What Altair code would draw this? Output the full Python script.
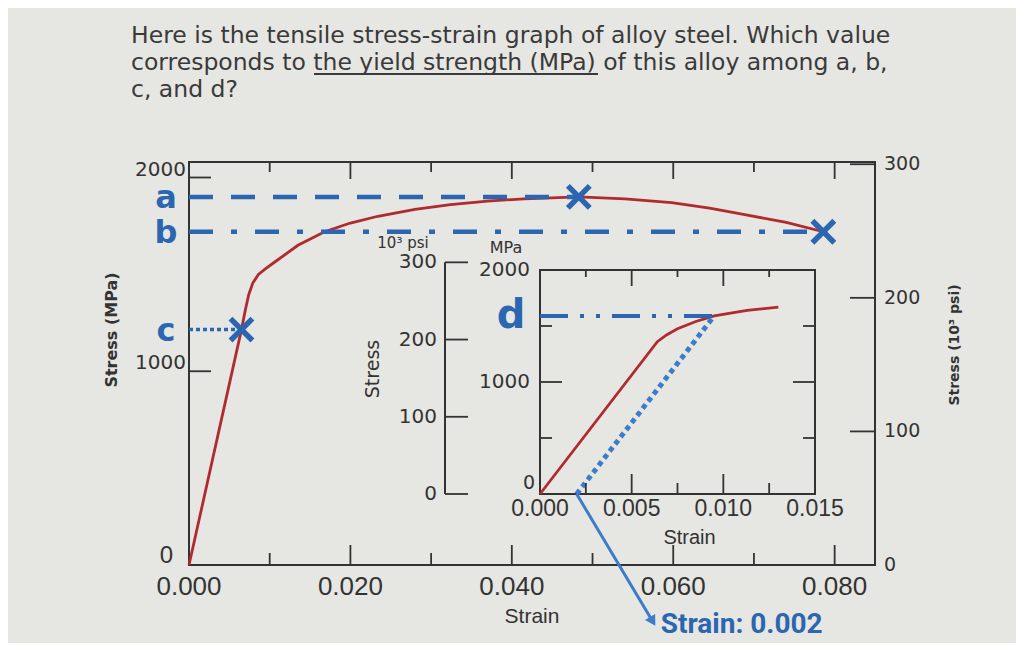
import altair as alt
import pandas as pd

# ---------------- data ----------------
TITLE_LINES = [
    "Here is the tensile stress-strain graph of alloy steel. Which value",
    "corresponds to the yield strength (MPa) of this alloy among a, b,",
    "c, and d?",
]

MAIN_STRAIN = [0, 0.0065, 0.0070, 0.0074, 0.0079, 0.0086, 0.0095, 0.0105, 0.0135, 0.0168,
               0.0200, 0.0234, 0.0280, 0.0324, 0.0370, 0.0415, 0.0483, 0.0540, 0.0598,
               0.0645, 0.0687, 0.0740, 0.0786]
MAIN_STRESS = [0, 1215, 1320, 1395, 1455, 1500, 1530, 1560, 1650, 1720,
               1765, 1800, 1835, 1860, 1878, 1890, 1900, 1890, 1870,
               1842, 1810, 1768, 1720]

LEVEL_NAMES = ["a", "b", "c"]
LEVEL_STRESS = [1900, 1720, 1215]
LEVEL_STRAIN = [0.0483, 0.0786, 0.0065]

MAIN_X_LABELS = [0.000, 0.020, 0.040, 0.060, 0.080]
MAIN_X_MAJOR = [0.020, 0.040, 0.060, 0.080]
MAIN_X_MINOR = [0.010, 0.030, 0.050, 0.070]
MAIN_Y_LABELS = [1000, 2000]
MAIN_Y_ZERO = [0]
MAIN_Y_TICKS = [1000, 2000]
PSI_LABELS = [0, 100, 200, 300]
PSI_TICKS = [100, 200, 300]
MPA_PER_KSI = 6.89476

INSET_STRAIN = [0, 0.0064, 0.0069, 0.0075, 0.0085, 0.0095, 0.0113, 0.0130]
INSET_STRESS = [0, 1360, 1420, 1475, 1540, 1590, 1640, 1668]
OFFSET_STRAIN = [0.002, 0.0095]
OFFSET_STRESS = [0, 1590]
D_STRAIN = 0.0095
D_STRESS = 1590
INSET_X_LABELS = [0.000, 0.005, 0.010, 0.015]
INSET_X_MAJOR = [0.005, 0.010]
INSET_X_MINOR = [0.0025, 0.0075, 0.0125]
INSET_Y_LABELS = [1000, 2000]
INSET_Y_ZERO = [0]
INSET_Y_MAJOR = [1000]
INSET_Y_MINOR = [500, 1500]
INSET_PSI_LABELS = [0, 100, 200, 300]

ARROW_STRAIN = [0.002, 0.0061]
ARROW_STRESS = [0, -1125]
NOTE = "Strain: 0.002"

# ---------------- styles / layout ----------------
BLUE = "#2c66b0"
LBLUE = "#3d7cc9"
RED = "#b02a2e"
INK = "#333333"
BG = "#e6e6e2"
SANS = "Liberation Sans"
WIDE = "DejaVu Sans"

W, H = 686, 403
MX = alt.Scale(domain=[0, 0.085], nice=False, zero=False)
MY = alt.Scale(domain=[0, 2080], nice=False, zero=False)
IX0, IX1, IY0, IY1 = 351, 626, 332, 108
IX = alt.Scale(domain=[0, 0.015], range=[IX0, IX1], nice=False, zero=False)
IY = alt.Scale(domain=[0, 2000], range=[IY0, IY1], nice=False, zero=False)
PSI_X = 256
P300 = IY0 - (300 * MPA_PER_KSI / 2000) * (IY0 - IY1)
TITLE_X, TITLE_Y, TITLE_STEP, TITLE_SIZE = -58, -126, 27, 23.5


def X(f, s):
    return alt.X(f, type="quantitative", scale=s, axis=None)


def Y(f, s):
    return alt.Y(f, type="quantitative", scale=s, axis=None)


def df(**kw):
    return pd.DataFrame(kw)


def txt(t, **kw):
    return alt.Chart(df(t=[t])).mark_text(**kw).encode(text="t:N")


layers = []

# ---------------- question text ----------------
for i, line in enumerate(TITLE_LINES):
    layers.append(txt(line, font=WIDE, fontSize=TITLE_SIZE, color="#3a3a3a", align="left",
                      baseline="middle")
                  .encode(x=alt.value(TITLE_X), y=alt.value(TITLE_Y + i * TITLE_STEP)))
# underline under "the yield strength (MPa)"
layers.append(alt.Chart(df(t=[0])).mark_rule(color="#3a3a3a", strokeWidth=1.8)
              .encode(x=alt.value(TITLE_X + 183), x2=alt.value(TITLE_X + 467),
                      y=alt.value(TITLE_Y + TITLE_STEP + 11)))

# ---------------- main panel ----------------
curve_df = df(strain=MAIN_STRAIN, stress=MAIN_STRESS)
layers.append(alt.Chart(curve_df).mark_line(color=RED, strokeWidth=2.8, interpolate="linear")
              .encode(x=X("strain", MX), y=Y("stress", MY)))

lv = df(name=LEVEL_NAMES, stress=LEVEL_STRESS, strain=LEVEL_STRAIN)
lv["start"] = 0.0
dashes = {"a": [24, 18], "b": [24, 18, 6, 18], "c": [4, 3]}
widths = {"a": 4.5, "b": 4.5, "c": 3.5}
for n in LEVEL_NAMES:
    layers.append(alt.Chart(lv[lv.name == n]).mark_rule(color=BLUE, strokeWidth=widths[n],
                                                        strokeDash=dashes[n])
                  .encode(x=X("start", MX), x2="strain", y=Y("stress", MY)))

XPATH = "M-1,-1L1,1M-1,1L1,-1"
layers.append(alt.Chart(lv).mark_point(shape=XPATH, size=480, filled=False, color=BLUE,
                                       strokeWidth=5.5, opacity=1)
              .encode(x=X("strain", MX), y=Y("stress", MY)))
layers.append(alt.Chart(lv).mark_text(font=WIDE, fontWeight="bold", fontSize=32,
                                      color=BLUE, dx=-23, dy=1, baseline="middle")
              .encode(x=X("start", MX), y=Y("stress", MY), text="name:N"))

# ticks (pointing inward)
layers.append(alt.Chart(df(v=MAIN_X_MAJOR)).mark_rule(color=INK, strokeWidth=1.8)
              .encode(x=X("v", MX), y=alt.value(H), y2=alt.value(H - 20)))
layers.append(alt.Chart(df(v=MAIN_X_MINOR)).mark_rule(color=INK, strokeWidth=1.8)
              .encode(x=X("v", MX), y=alt.value(H), y2=alt.value(H - 12)))
layers.append(alt.Chart(df(v=MAIN_X_MAJOR)).mark_rule(color=INK, strokeWidth=1.8)
              .encode(x=X("v", MX), y=alt.value(0), y2=alt.value(17)))
layers.append(alt.Chart(df(v=MAIN_X_MINOR)).mark_rule(color=INK, strokeWidth=1.8)
              .encode(x=X("v", MX), y=alt.value(0), y2=alt.value(10)))
layers.append(alt.Chart(df(v=MAIN_Y_TICKS)).mark_rule(color=INK, strokeWidth=1.8)
              .encode(y=Y("v", MY), x=alt.value(0), x2=alt.value(22)))
psi_t = df(k=PSI_TICKS)
psi_t["mpa"] = psi_t.k * MPA_PER_KSI
layers.append(alt.Chart(psi_t).mark_rule(color=INK, strokeWidth=1.8)
              .encode(y=Y("mpa", MY), x=alt.value(W - 25), x2=alt.value(W)))

# tick labels
xl = df(v=MAIN_X_LABELS)
xl["lab"] = [f"{v:.3f}" for v in MAIN_X_LABELS]
layers.append(alt.Chart(xl).mark_text(font=SANS, fontSize=26, color=INK, baseline="top")
              .encode(x=X("v", MX), y=alt.value(H + 9), text="lab:N"))
yl = df(v=MAIN_Y_LABELS)
yl["lab"] = [str(v) for v in MAIN_Y_LABELS]
layers.append(alt.Chart(yl).mark_text(font=WIDE, fontSize=20, color=INK, align="right",
                                      baseline="middle", dx=-3, dy=-8)
              .encode(y=Y("v", MY), x=alt.value(0), text="lab:N"))
yz = df(v=MAIN_Y_ZERO)
yz["lab"] = [str(v) for v in MAIN_Y_ZERO]
layers.append(alt.Chart(yz).mark_text(font=SANS, fontSize=24, color=INK, align="right",
                                      baseline="middle", dx=-16, dy=-9)
              .encode(y=Y("v", MY), x=alt.value(0), text="lab:N"))
pl = df(k=PSI_LABELS)
pl["mpa"] = pl.k * MPA_PER_KSI
pl["lab"] = [str(v) for v in PSI_LABELS]
layers.append(alt.Chart(pl).mark_text(font=WIDE, fontSize=19, color=INK, align="left",
                                      baseline="middle")
              .encode(y=Y("mpa", MY), x=alt.value(W + 9), text="lab:N"))

# axis titles
layers.append(txt("Strain", font=SANS, fontSize=21, color=INK)
              .encode(x=alt.value(W / 2), y=alt.value(H + 52)))
layers.append(txt("Stress (MPa)", font=WIDE, fontSize=16, fontWeight="bold", color=INK, angle=270)
              .encode(x=alt.value(-77), y=alt.value(168)))
layers.append(txt("Stress (10³ psi)", font=WIDE, fontSize=14, fontWeight="bold", color=INK, angle=270)
              .encode(x=alt.value(766), y=alt.value(183)))

# ---------------- inset ----------------
frame = df(x0=[INSET_X_LABELS[0]], x1=[INSET_X_LABELS[-1]], y0=[0], y1=[INSET_Y_LABELS[-1]])
layers.append(alt.Chart(frame).mark_rect(fillOpacity=0, stroke=INK, strokeWidth=2)
              .encode(x=X("x0", IX), x2="x1", y=Y("y0", IY), y2="y1"))

layers.append(alt.Chart(df(strain=INSET_STRAIN, stress=INSET_STRESS))
              .mark_line(color=RED, strokeWidth=2.8, interpolate="linear")
              .encode(x=X("strain", IX), y=Y("stress", IY)))
off = df(x0=[OFFSET_STRAIN[0]], x1=[OFFSET_STRAIN[1]], y0=[OFFSET_STRESS[0]], y1=[OFFSET_STRESS[1]])
layers.append(alt.Chart(off).mark_rule(color=LBLUE, strokeWidth=5, strokeDash=[5, 4])
              .encode(x=X("x0", IX), x2="x1", y=Y("y0", IY), y2="y1"))
dl = df(x0=[0.0], x1=[D_STRAIN], y=[D_STRESS], name=["d"])
layers.append(alt.Chart(dl).mark_rule(color=BLUE, strokeWidth=4, strokeDash=[28, 12, 4, 12, 4, 12])
              .encode(x=X("x0", IX), x2="x1", y=Y("y", IY)))
layers.append(alt.Chart(dl).mark_text(font=WIDE, fontWeight="bold", fontSize=40,
                                      color=BLUE, dx=-29, baseline="middle")
              .encode(x=X("x0", IX), y=Y("y", IY), text="name:N"))

# inset ticks
for vals, ln in ((INSET_X_MAJOR, 20), (INSET_X_MINOR, 11)):
    layers.append(alt.Chart(df(v=vals)).mark_rule(color=INK, strokeWidth=1.8)
                  .encode(x=X("v", IX), y=alt.value(IY0), y2=alt.value(IY0 - ln)))
    layers.append(alt.Chart(df(v=vals)).mark_rule(color=INK, strokeWidth=1.8)
                  .encode(x=X("v", IX), y=alt.value(IY1), y2=alt.value(IY1 + ln - 4)))
for vals, ln in ((INSET_Y_MAJOR, 22), (INSET_Y_MINOR, 12)):
    layers.append(alt.Chart(df(v=vals)).mark_rule(color=INK, strokeWidth=1.8)
                  .encode(y=Y("v", IY), x=alt.value(IX0), x2=alt.value(IX0 + ln)))
    layers.append(alt.Chart(df(v=vals)).mark_rule(color=INK, strokeWidth=1.8)
                  .encode(y=Y("v", IY), x=alt.value(IX1 - ln), x2=alt.value(IX1)))

# inset labels
ixl = df(v=INSET_X_LABELS)
ixl["lab"] = [f"{v:.3f}" for v in INSET_X_LABELS]
layers.append(alt.Chart(ixl).mark_text(font=SANS, fontSize=23, color=INK, baseline="top")
              .encode(x=X("v", IX), y=alt.value(IY0 + 4), text="lab:N"))
layers.append(txt("Strain", font=SANS, fontSize=20, color=INK)
              .encode(x=alt.value((IX0 + IX1) / 2 + 12), y=alt.value(IY0 + 44)))
iyl = df(v=INSET_Y_LABELS)
iyl["lab"] = [str(v) for v in INSET_Y_LABELS]
layers.append(alt.Chart(iyl).mark_text(font=WIDE, fontSize=20, color=INK, align="right",
                                       baseline="middle")
              .encode(y=Y("v", IY), x=alt.value(IX0 - 10), text="lab:N"))
iyz = df(v=INSET_Y_ZERO)
iyz["lab"] = [str(v) for v in INSET_Y_ZERO]
layers.append(alt.Chart(iyz).mark_text(font=WIDE, fontSize=19, color=INK, align="right",
                                       baseline="middle", dy=-11)
              .encode(y=Y("v", IY), x=alt.value(IX0 - 5), text="lab:N"))
layers.append(txt("MPa", font=WIDE, fontSize=16, color=INK)
              .encode(x=alt.value(IX0 - 34), y=alt.value(IY1 - 22)))

# inset psi axis
ipsi = df(k=INSET_PSI_LABELS)
ipsi["mpa"] = ipsi.k * MPA_PER_KSI
ipsi["lab"] = [str(v) for v in INSET_PSI_LABELS]
ipsi_line = df(y0=[0.0], y1=[INSET_PSI_LABELS[-1] * MPA_PER_KSI])
layers.append(alt.Chart(ipsi_line).mark_rule(color=INK, strokeWidth=2)
              .encode(x=alt.value(PSI_X), y=Y("y0", IY), y2="y1"))
layers.append(alt.Chart(ipsi).mark_rule(color=INK, strokeWidth=1.8)
              .encode(y=Y("mpa", IY), x=alt.value(PSI_X), x2=alt.value(PSI_X + 23)))
layers.append(alt.Chart(ipsi).mark_text(font=WIDE, fontSize=20, color=INK, align="right",
                                        baseline="middle")
              .encode(y=Y("mpa", IY), x=alt.value(PSI_X - 8), text="lab:N"))
layers.append(txt("10³ psi", font=WIDE, fontSize=15, color=INK)
              .encode(x=alt.value(PSI_X - 42), y=alt.value(P300 - 19)))
layers.append(txt("Stress", font=WIDE, fontSize=19, color=INK, angle=270)
              .encode(x=alt.value(PSI_X - 72), y=alt.value((IY0 + IY1) / 2 - 13)))

# arrow and note
arr = df(x0=[ARROW_STRAIN[0]], x1=[ARROW_STRAIN[1]], y0=[ARROW_STRESS[0]], y1=[ARROW_STRESS[1]])
layers.append(alt.Chart(arr).mark_rule(color=LBLUE, strokeWidth=3)
              .encode(x=X("x0", IX), x2="x1", y=Y("y0", IY), y2="y1"))
tip = df(x=[ARROW_STRAIN[-1]], y=[ARROW_STRESS[-1]], t=[NOTE])
layers.append(alt.Chart(tip).mark_point(shape="triangle", angle=149, size=140, filled=True,
                                        color=LBLUE, opacity=1)
              .encode(x=X("x", IX), y=Y("y", IY)))
layers.append(alt.Chart(tip).mark_text(font="Roboto", fontWeight="bold",
                                       fontSize=28, color=BLUE, align="left",
                                       baseline="middle", dx=9, dy=5)
              .encode(x=X("x", IX), y=Y("y", IY), text="t:N"))

chart = (
    alt.layer(*layers)
    .resolve_scale(x="independent", y="independent")
    .properties(
        width=W,
        height=H,
        autosize=alt.AutoSizeParams(type="none"),
        padding={"left": 181, "top": 154, "right": 141, "bottom": 78},
        background=BG,
    )
    .configure_view(stroke=INK, strokeWidth=2)
)

chart.save("out.html", embed_options={"renderer": "svg", "actions": False})
